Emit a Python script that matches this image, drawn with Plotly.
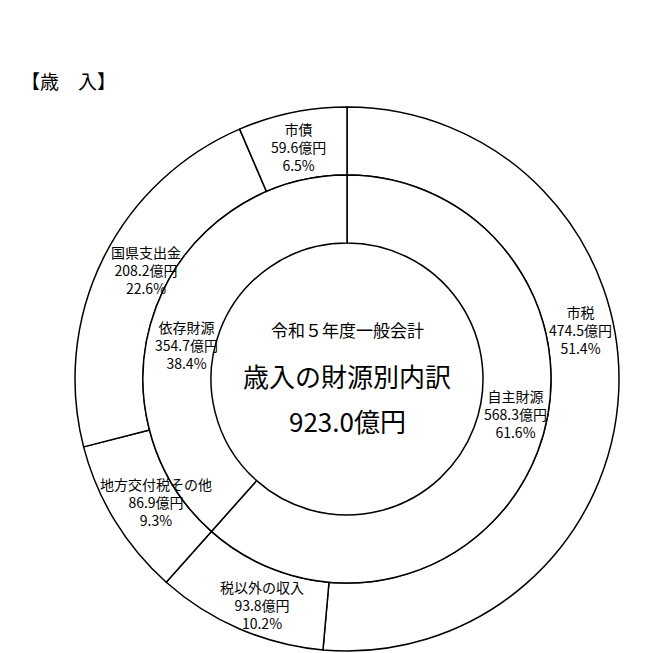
import plotly.graph_objects as go

# 歳入 data (億円, %)
outer_labels = ["市税", "税以外の収入", "地方交付税その他", "国県支出金", "市債"]
outer_values = [474.5, 93.8, 86.9, 208.2, 59.6]
outer_pcts = [51.4, 10.2, 9.3, 22.6, 6.5]

inner_labels = ["自主財源", "依存財源"]
inner_values = [568.3, 354.7]
inner_pcts = [61.6, 38.4]

total_value = 923.0
center_title = "令和５年度一般会計"
center_subtitle = "歳入の財源別内訳"
page_title = "【歳　入】"

W, H = 648, 653
OFF = 8  # browser body margin, positions below are window pixels
CX, CY = 347, 379
R_OUT, R_MID, R_IN = 272, 204, 136


def dom(r):
    cx, cy = CX - OFF, CY - OFF
    return dict(x=[(cx - r) / W, (cx + r) / W],
                y=[(H - cy - r) / H, (H - cy + r) / H])


def px(x, y):
    return (x - OFF) / W, 1 - (y - OFF) / H


fig = go.Figure()

fig.add_trace(go.Pie(
    labels=outer_labels, values=outer_values, domain=dom(R_OUT),
    hole=R_MID / R_OUT, sort=False, direction="clockwise", rotation=0,
    textinfo="none", showlegend=False, hoverinfo="label+value",
    marker=dict(colors=["white"] * len(outer_values),
                line=dict(color="black", width=1.5)),
))
fig.add_trace(go.Pie(
    labels=inner_labels, values=inner_values, domain=dom(R_MID),
    hole=R_IN / R_MID, sort=False, direction="clockwise", rotation=0,
    textinfo="none", showlegend=False, hoverinfo="label+value",
    marker=dict(colors=["white"] * len(inner_values),
                line=dict(color="black", width=1.5)),
))

# label block centres (window pixels)
outer_pos = [(580, 330), (262, 605), (156, 502), (146, 270), (298, 147)]
inner_pos = [(515, 414), (186, 345)]

font = "Noto Sans CJK JP"
ann = []
for name, v, p, (x, y) in zip(outer_labels + inner_labels,
                              outer_values + inner_values,
                              outer_pcts + inner_pcts,
                              outer_pos + inner_pos):
    ax, ay = px(x, y)
    ann.append(dict(x=ax, y=ay, xref="paper", yref="paper",
                    xanchor="center", yanchor="middle",
                    text=f"{name}<br>{v:.1f}億円<br>{p:.1f}%",
                    showarrow=False, align="center",
                    font=dict(family=font, size=14, color="black")))

for txt, y, size in [(center_title, 329, 17),
                     (center_subtitle, 375, 26),
                     (f"{total_value:.1f}億円", 420, 26)]:
    ax, ay = px(CX, y)
    ann.append(dict(x=ax, y=ay, xref="paper", yref="paper", text=txt,
                    xanchor="center", yanchor="middle", showarrow=False,
                    font=dict(family=font, size=size, color="black")))

ax, ay = px(19, 80)
ann.append(dict(x=ax, y=ay, xref="paper", yref="paper", text=page_title,
                showarrow=False, xanchor="left", yanchor="middle",
                font=dict(family=font, size=19, color="black")))

fig.update_layout(
    width=W, height=H, autosize=False,
    margin=dict(l=0, r=0, t=0, b=0),
    paper_bgcolor="white", plot_bgcolor="white",
    annotations=ann,
)

fig.write_html("out.html")
